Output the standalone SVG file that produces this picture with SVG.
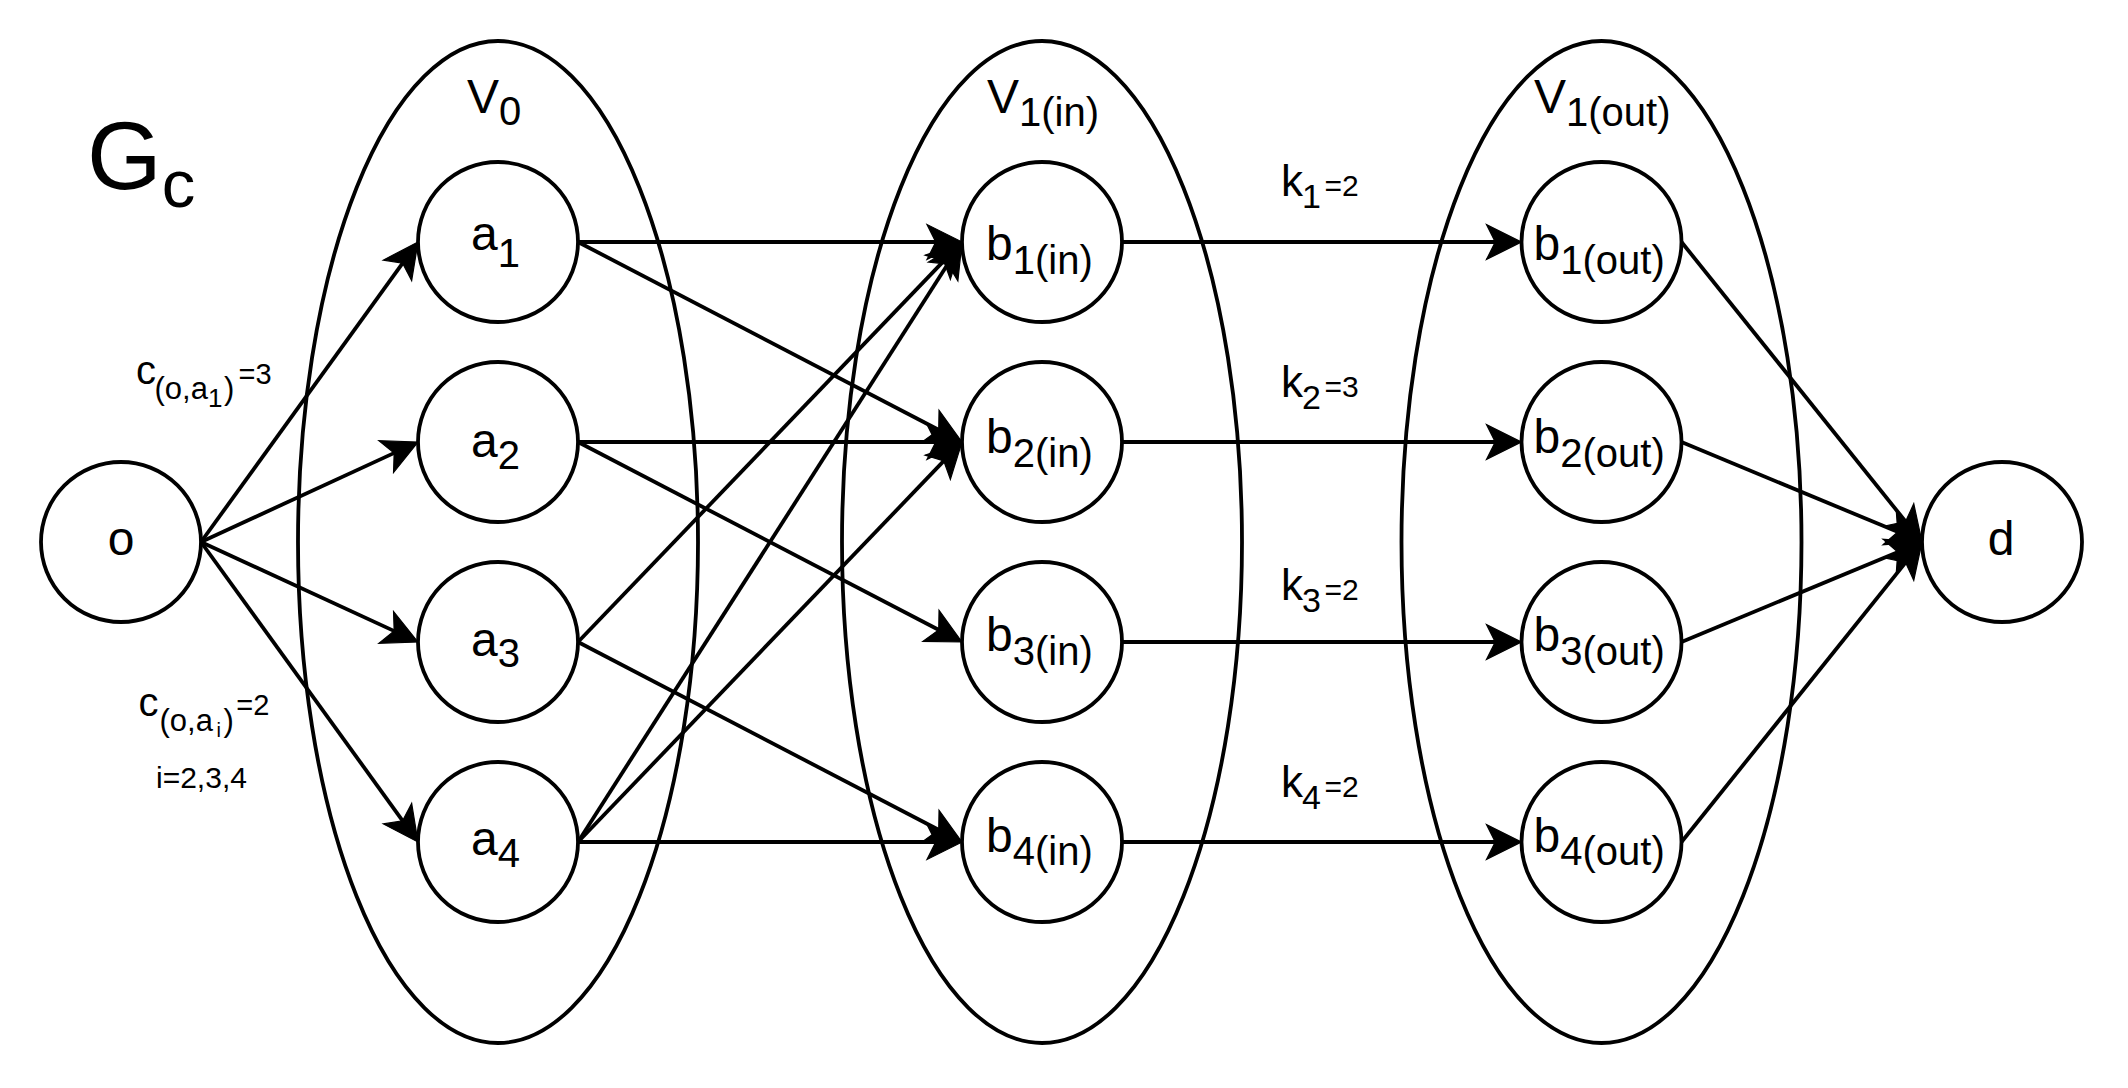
<svg xmlns="http://www.w3.org/2000/svg" width="2128" height="1088" viewBox="0 0 2128 1088">
<style>
.ell{fill:none;stroke:#000;stroke-width:3.8}
.node{fill:#fff;stroke:#000;stroke-width:3.8}
.edge{fill:none;stroke:#000;stroke-width:3.8}
text{font-family:"Liberation Sans",Arial,Helvetica,sans-serif;fill:#000}
.m{font-size:48px}
.s{font-size:40px}
</style>
<defs>
<marker id="arr" markerUnits="userSpaceOnUse" orient="auto" overflow="visible" markerWidth="1" markerHeight="1" refX="0" refY="0">
<path d="M20,0 L-15,-17.5 L-6.25,0 L-15,17.5 Z" fill="#000" stroke="#000" stroke-width="1.2"/>
</marker>
</defs>
<rect width="2128" height="1088" fill="#fff"/>

<g id="title">
<text x="87" y="188.5" font-size="96">G<tspan x="161.7" y="207" font-size="67">c</tspan></text>
</g>

<g id="set-V0">
<ellipse class="ell" cx="498" cy="542" rx="200" ry="501"/>
<text class="m" x="467" y="113">V<tspan class="s" y="124.5">0</tspan></text>
</g>
<g id="set-V1in">
<ellipse class="ell" cx="1042" cy="542" rx="200" ry="501"/>
<text class="m" x="987" y="113">V<tspan class="s" y="125.5">1(in)</tspan></text>
</g>
<g id="set-V1out">
<ellipse class="ell" cx="1601.5" cy="542" rx="200" ry="501"/>
<text class="m" x="1534" y="113">V<tspan class="s" y="125.5">1(out)</tspan></text>
</g>

<g id="connectors">
<path class="edge" marker-end="url(#arr)" d="M201,542 L406.28,258.21"/>
<path class="edge" marker-end="url(#arr)" d="M201,542 L399.84,450.37"/>
<path class="edge" marker-end="url(#arr)" d="M201,542 L399.84,633.63"/>
<path class="edge" marker-end="url(#arr)" d="M201,542 L406.28,825.79"/>

<path class="edge" marker-end="url(#arr)" d="M578,242 L942,242"/>
<path class="edge" marker-end="url(#arr)" d="M578,242 L944.26,432.76"/>
<path class="edge" marker-end="url(#arr)" d="M578,442 L942,442"/>
<path class="edge" marker-end="url(#arr)" d="M578,442 L944.26,632.76"/>
<path class="edge" marker-end="url(#arr)" d="M578,642 L948.15,256.43"/>
<path class="edge" marker-end="url(#arr)" d="M578,642 L944.26,832.76"/>
<path class="edge" marker-end="url(#arr)" d="M578,842 L951.22,258.85"/>
<path class="edge" marker-end="url(#arr)" d="M578,842 L948.15,456.43"/>
<path class="edge" marker-end="url(#arr)" d="M578,842 L942,842"/>

<path class="edge" marker-end="url(#arr)" d="M1122,242 L1501.5,242"/>
<path class="edge" marker-end="url(#arr)" d="M1122,442 L1501.5,442"/>
<path class="edge" marker-end="url(#arr)" d="M1122,642 L1501.5,642"/>
<path class="edge" marker-end="url(#arr)" d="M1122,842 L1501.5,842"/>

<path class="edge" marker-end="url(#arr)" d="M1681.5,242 L1909.49,526.4"/>
<path class="edge" marker-end="url(#arr)" d="M1681.5,442 L1903.53,534.32"/>
<path class="edge" marker-end="url(#arr)" d="M1681.5,642 L1903.53,549.68"/>
<path class="edge" marker-end="url(#arr)" d="M1681.5,842 L1909.49,557.6"/>

<text font-size="44" x="1281" y="196">k<tspan x="1302" y="208" font-size="34">1</tspan><tspan x="1324.5" y="196" font-size="30">=2</tspan></text>
<text font-size="44" x="1281" y="396.5">k<tspan x="1302" y="408.5" font-size="34">2</tspan><tspan x="1324.5" y="396.5" font-size="30">=3</tspan></text>
<text font-size="44" x="1281" y="599.5">k<tspan x="1302" y="611.5" font-size="34">3</tspan><tspan x="1324.5" y="599.5" font-size="30">=2</tspan></text>
<text font-size="44" x="1281" y="796.5">k<tspan x="1302" y="808.5" font-size="34">4</tspan><tspan x="1324.5" y="796.5" font-size="30">=2</tspan></text>

<text><tspan x="136" y="384" font-size="40">c</tspan><tspan x="154.5" y="399" font-size="31">(o,a</tspan><tspan x="207.9" y="406.5" font-size="26">1</tspan><tspan x="224" y="399" font-size="31">)</tspan><tspan x="238.6" y="383.5" font-size="29">=3</tspan></text>
<text><tspan x="138.5" y="716" font-size="40">c</tspan><tspan x="159.5" y="730.5" font-size="31">(o,a</tspan><tspan x="216.5" y="736.5" font-size="20">i</tspan><tspan x="223.5" y="730.5" font-size="31">)</tspan><tspan x="236.3" y="715" font-size="29">=2</tspan></text>
<text x="156" y="788" font-size="30">i=2,3,4</text>
</g>

<g id="node-o">
<circle class="node" cx="121" cy="542" r="80"/>
<text class="m" x="121" y="554.5" text-anchor="middle">o</text>
</g>
<g id="node-a1">
<circle class="node" cx="498" cy="242" r="80"/>
<text class="m" x="471" y="250">a<tspan class="s" y="267">1</tspan></text>
</g>
<g id="node-a2">
<circle class="node" cx="498" cy="442" r="80"/>
<text class="m" x="471" y="457">a<tspan class="s" y="468.5">2</tspan></text>
</g>
<g id="node-a3">
<circle class="node" cx="498" cy="642" r="80"/>
<text class="m" x="471" y="655.5">a<tspan class="s" y="666.5">3</tspan></text>
</g>
<g id="node-a4">
<circle class="node" cx="498" cy="842" r="80"/>
<text class="m" x="471" y="854.5">a<tspan class="s" y="866.5">4</tspan></text>
</g>

<g id="node-b1in">
<circle class="node" cx="1042" cy="242" r="80"/>
<text class="m" x="986" y="260">b<tspan class="s" y="274">1(in)</tspan></text>
</g>
<g id="node-b2in">
<circle class="node" cx="1042" cy="442" r="80"/>
<text class="m" x="986" y="452.5">b<tspan class="s" y="466.5">2(in)</tspan></text>
</g>
<g id="node-b3in">
<circle class="node" cx="1042" cy="642" r="80"/>
<text class="m" x="986" y="651">b<tspan class="s" y="665">3(in)</tspan></text>
</g>
<g id="node-b4in">
<circle class="node" cx="1042" cy="842" r="80"/>
<text class="m" x="986" y="852">b<tspan class="s" y="865">4(in)</tspan></text>
</g>

<g id="node-b1out">
<circle class="node" cx="1601.5" cy="242" r="80"/>
<text class="m" x="1533.5" y="260">b<tspan class="s" y="274">1(out)</tspan></text>
</g>
<g id="node-b2out">
<circle class="node" cx="1601.5" cy="442" r="80"/>
<text class="m" x="1533.5" y="452.5">b<tspan class="s" y="466.5">2(out)</tspan></text>
</g>
<g id="node-b3out">
<circle class="node" cx="1601.5" cy="642" r="80"/>
<text class="m" x="1533.5" y="651">b<tspan class="s" y="665">3(out)</tspan></text>
</g>
<g id="node-b4out">
<circle class="node" cx="1601.5" cy="842" r="80"/>
<text class="m" x="1533.5" y="852">b<tspan class="s" y="865">4(out)</tspan></text>
</g>

<g id="node-d">
<circle class="node" cx="2002" cy="542" r="80"/>
<text class="m" x="2001" y="555" text-anchor="middle">d</text>
</g>
</svg>
